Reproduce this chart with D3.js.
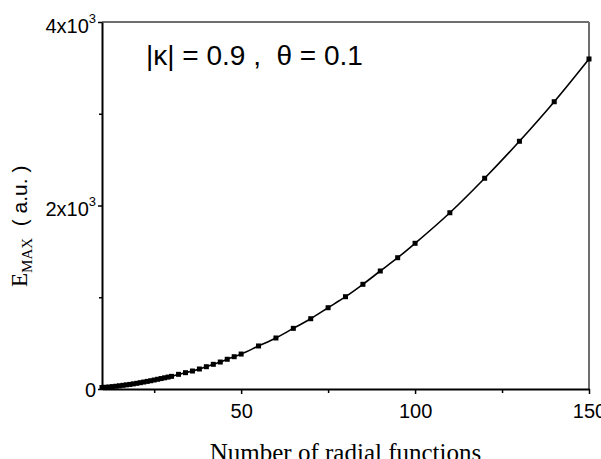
<!DOCTYPE html>
<html>
<head>
<meta charset="utf-8">
<script src="https://cdn.jsdelivr.net/npm/d3@7"></script>
<style>
  body { margin: 0; background: #fff; }
  svg { display: block; }
</style>
</head>
<body>
<svg id="chart"></svg>
<script>
// number of radial functions (x) and E_MAX in a.u. (y)
const nRadial = [10, 11, 12, 13, 14, 15, 16, 17, 18, 19, 20, 21, 22, 23, 24, 25, 26, 27, 28, 29,
    30, 32, 34, 36, 38, 40, 42, 44, 46, 48, 50, 55, 60, 65, 70, 75, 80, 85, 90, 95, 100,
    110, 120, 130, 140, 150];
const eMax = [16, 19, 22, 26, 30, 35, 40, 45, 50, 56, 62, 69, 76, 83, 90, 98, 106, 114, 122, 130,
    138, 160, 178, 196, 218, 243, 269, 294, 324, 352, 381, 469, 556, 661, 766, 886, 1006, 1141, 1286, 1431, 1588,
    1921, 2297, 2700, 3131, 3597];

const xMajor = [50, 100, 150];
const xMinor = [25, 75, 125];
const yMajor = [0, 2000, 4000];
const yMinor = [1000, 3000];
const yTickText = {0: ["0", ""], 2000: ["2x10", "3"], 4000: ["4x10", "3"]};

const W = 601, H = 459;
const margin = {top: 22, right: 12, bottom: 70, left: 102};
const width = W - margin.left - margin.right;
const height = H - margin.top - margin.bottom;

const sans = "Arial, 'Liberation Sans', sans-serif";
const serif = "'Times New Roman', 'Liberation Serif', serif";

const svg = d3.select("#chart").attr("width", W).attr("height", H);
const chart = svg.append("g").attr("transform", `translate(${margin.left},${margin.top})`);

const xScale = d3.scaleLinear().domain([10, 150]).range([0, width]);
const yScale = d3.scaleLinear().domain([0, 4000]).range([height, 0]);

// frame: top + right are lighter
chart.append("line").attr("x1", 0).attr("x2", width).attr("y1", 0).attr("y2", 0)
    .attr("stroke", "#6e6e6e").attr("stroke-width", 2);
chart.append("line").attr("x1", width).attr("x2", width).attr("y1", 0).attr("y2", height)
    .attr("stroke", "#6e6e6e").attr("stroke-width", 2);

// minor ticks
const xMinorAxis = d3.axisBottom(xScale).tickValues(xMinor).tickSize(4).tickFormat("");
const yMinorAxis = d3.axisLeft(yScale).tickValues(yMinor).tickSize(3).tickFormat("");
chart.append("g").attr("transform", `translate(0,${height})`).call(xMinorAxis)
    .call(g => g.select(".domain").remove());
chart.append("g").call(yMinorAxis).call(g => g.select(".domain").remove());

// major axes
const xAxis = d3.axisBottom(xScale).tickValues(xMajor).tickSize(5).tickSizeOuter(0).tickPadding(10);
const yAxis = d3.axisLeft(yScale).tickValues(yMajor).tickSize(4).tickSizeOuter(0).tickPadding(2);

const xAxisG = chart.append("g").attr("transform", `translate(0,${height})`).call(xAxis);
xAxisG.selectAll("text")
    .attr("font-family", sans)
    .attr("font-size", 20).attr("fill", "#000");

const yAxisG = chart.append("g").call(yAxis);
yAxisG.selectAll("text").each(function(d) {
    const t = d3.select(this).text("")
        .attr("font-family", sans)
        .attr("font-size", 20).attr("fill", "#000")
        .attr("dy", d === 0 ? "0.35em" : "0.52em");
    const parts = yTickText[d];
    t.append("tspan").text(parts[0]);
    if (parts[1]) {
        t.append("tspan").attr("font-size", 13).attr("dy", -10).text(parts[1]);
    }
});

chart.selectAll(".domain").attr("stroke-width", 2).attr("stroke", "#000");
chart.selectAll(".tick line").attr("stroke-width", 1.5).attr("stroke", "#000");

// curve
const line = d3.line()
    .x((d, i) => xScale(nRadial[i]))
    .y(d => yScale(d))
    .curve(d3.curveMonotoneX);

chart.append("path")
    .datum(eMax)
    .attr("fill", "none")
    .attr("stroke", "#000")
    .attr("stroke-width", 1.6)
    .attr("d", line);

const sz = 5;
chart.selectAll(".pt")
    .data(eMax)
    .join("rect")
    .attr("class", "pt")
    .attr("x", (d, i) => xScale(nRadial[i]) - sz / 2)
    .attr("y", d => yScale(d) - sz / 2)
    .attr("width", sz)
    .attr("height", sz)
    .attr("fill", "#000");

// annotation
svg.append("text")
    .attr("x", 146)
    .attr("y", 65)
    .attr("font-family", sans)
    .attr("font-size", 28)
    .attr("xml:space", "preserve")
    .text("|\u03BA| = 0.9 ,  \u03B8 = 0.1");

// x label
svg.append("text")
    .attr("x", margin.left + width / 2)
    .attr("y", 461)
    .attr("text-anchor", "middle")
    .attr("font-family", serif)
    .attr("font-size", 25)
    .text("Number of radial functions");

// y label
const yLab = svg.append("text")
    .attr("transform", "translate(27,287) rotate(-90)")
    .attr("font-family", serif)
    .attr("font-size", 23)
    .attr("xml:space", "preserve");
yLab.append("tspan").text("E");
yLab.append("tspan").attr("font-size", 15).attr("dy", 5).text("MAX");
yLab.append("tspan").attr("dy", -5).attr("font-family", sans).attr("font-size", 21).text("  ( a.u. )");
</script>
</body>
</html>
